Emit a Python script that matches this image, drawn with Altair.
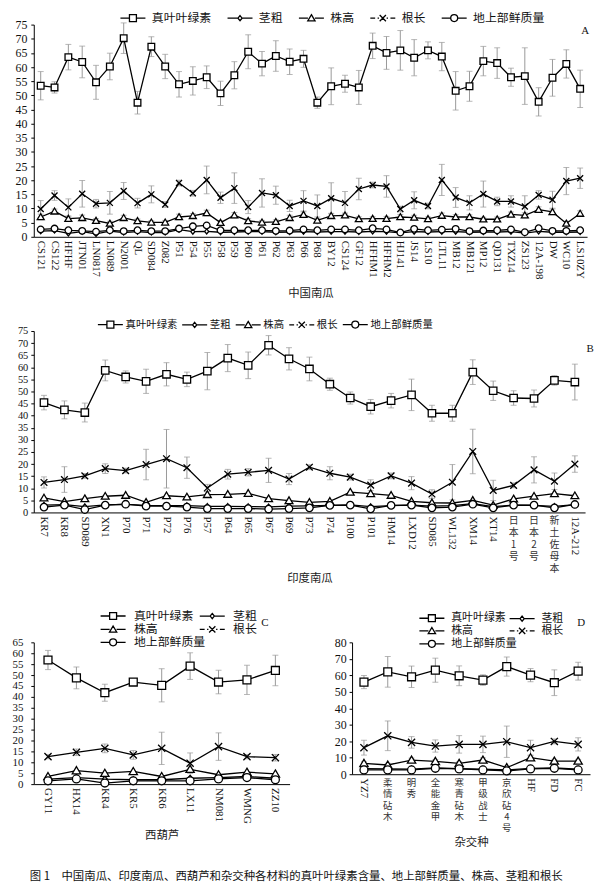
import altair as alt
import pandas as pd

SERIES = ["真叶叶绿素", "茎粗", "株高", "根长", "地上部鲜质量"]
LATIN = "Liberation Serif, Times New Roman, Noto Sans CJK SC"
CJK = "Noto Sans CJK SC"

# ---------------- Panel A: 中国南瓜 ----------------
A_CATS = ["CS121", "CS122", "HFHF", "JTN01", "LN0817", "LN089", "N2001", "QL", "SD084", "Z082",
          "P51", "P54", "P55", "P58", "P59", "P60", "P61", "P62", "P63", "P66", "P68", "BY12",
          "CS124", "GF12", "HFHM1", "HFHM2", "HJ141", "JS14", "LS10", "LTL11", "MB12", "MB121",
          "MP12", "QD131", "TXZ14", "ZS123", "12A-198", "DW", "WC10", "LS10ZY"]
A_CHL = [53.4, 52.8, 63.5, 61.8, 54.6, 60.2, 70.2, 47.4, 67.2, 60.2, 53.9, 55.1, 56.4, 50.7, 57.1,
         65.4, 61.2, 63.9, 61.9, 62.9, 47.4, 53.2, 54.1, 52.8, 67.5, 65.0, 65.9, 63.3, 65.9, 63.7,
         51.6, 53.2, 62.1, 61.4, 56.4, 56.8, 47.7, 56.2, 61.1, 52.3]
A_CHL_ERR = [5, 2, 4.5, 5.6, 6, 4.7, 5.4, 4, 3.5, 4.3, 4.5, 5, 4, 4.3, 4.8, 6, 4.3, 5.4, 4.5, 3,
             2, 6.5, 3, 6, 4.5, 5.8, 7, 6.4, 3, 5, 6.8, 5.3, 5.2, 5.4, 3.2, 10, 5, 6.5, 5, 6.6]
A_STEM = [2.0, 2.2, 1.2, 1.8, 1.0, 2.0, 1.5, 1.8, 1.5, 1.5, 2.5, 1.8, 1.9, 1.6, 1.7, 1.8, 1.8, 1.6,
          1.7, 1.8, 1.7, 1.8, 1.8, 1.7, 1.9, 1.8, 1.4, 1.8, 1.7, 1.8, 1.8, 1.6, 1.7, 1.7, 1.8, 1.3,
          1.9, 1.6, 1.6, 1.7]
A_HEIGHT = [7, 9, 6.4, 6.7, 5.7, 4.7, 6.7, 5.6, 5.1, 5.1, 7, 7.4, 8.4, 5, 7.6, 5.6, 5.1, 5.3, 6.7,
            7.8, 5.8, 7.4, 7.6, 6.3, 6.4, 6.4, 7, 6.8, 6.3, 7.5, 7, 7, 6.2, 6.2, 7.9, 7.6, 9.6, 8.8,
            4.7, 8.2]
A_HEIGHT_ERR = [1, 0.8, 0.8, 1, 0.7, 0.8, 0.9, 0.7, 0.6, 0.7, 1, 0.8, 1, 0.7, 1, 0.8, 0.7, 0.7, 0.9,
                1, 0.7, 0.9, 0.8, 0.8, 0.7, 0.8, 0.9, 0.8, 0.7, 0.9, 0.8, 0.8, 0.7, 0.8, 0.9, 0.9, 1,
                1, 0.8, 1]
A_ROOT = [9.8, 14.6, 10.4, 15.2, 11.7, 12.0, 16.2, 11.9, 15.0, 11.4, 19.0, 15.4, 20.1, 13.8, 17.2,
          10.5, 15.5, 14.7, 10.9, 12.7, 10.9, 13.6, 12.0, 16.9, 18.3, 17.8, 9.8, 12.9, 10.9, 20.1,
          13.9, 12.0, 15.1, 12.5, 12.5, 10.7, 14.8, 13.1, 19.7, 20.7]
A_ROOT_ERR = [3, 1.7, 3, 4.7, 1.5, 4, 3, 1.7, 3, 1, 1, 1, 4.9, 2, 5.4, 2.3, 5, 3.2, 2, 3.6, 3.9,
              5.5, 4, 3.8, 1, 3.8, 1, 3, 1, 5.5, 3.5, 2.5, 4.6, 1.5, 2, 3.8, 1.5, 3, 4.8, 3.6]
A_MASS = [2.6, 2.9, 2.3, 2.1, 1.8, 2.3, 2.0, 2.3, 2.0, 2.0, 2.9, 3.7, 4.0, 2.3, 2.3, 2.3, 2.3, 2.1,
          2.2, 2.6, 2.3, 2.6, 2.6, 2.3, 3.0, 2.6, 1.5, 2.8, 2.3, 2.5, 2.8, 2.0, 2.2, 2.3, 2.6, 1.6,
          3.0, 2.1, 2.1, 2.3]

# ---------------- Panel B: 印度南瓜 ----------------
B_CATS = ["KR7", "KR8", "SD089", "XN1", "P70", "P71", "P72", "P76", "P57", "P64", "P65", "P67",
          "P69", "P73", "P74", "P100", "P101", "HM14", "LXD12", "SD085", "WL132", "XM14", "XT14",
          "日本 1 号", "日本 2 号", "新土佐母本", "12A-212"]
B_CHL = [45.4, 42.4, 41.3, 58.7, 56.0, 54.2, 57.1, 55.0, 58.4, 63.8, 60.8, 69.1, 63.5, 59.3, 53.0,
         47.3, 43.7, 46.2, 48.6, 41.0, 41.0, 58.0, 50.3, 47.3, 47.1, 54.6, 53.9]
B_CHL_ERR = [3, 3.7, 3.9, 4.3, 2.5, 5, 4.8, 3, 7.7, 5.6, 5.5, 4, 4.6, 4.9, 2.5, 2.5, 3, 3, 6.5,
             3.3, 3.3, 5.1, 4, 3, 3.5, 2, 7.4]
B_STEM = [3.0, 3.2, 2.4, 3.1, 3.3, 2.9, 2.8, 2.8, 2.5, 2.5, 2.4, 2.3, 2.6, 2.7, 2.9, 3.1, 2.4, 2.8,
          3.0, 2.6, 2.8, 3.6, 2.4, 3.0, 2.9, 2.5, 3.2]
B_HEIGHT = [6, 4.5, 5.7, 6.7, 7.1, 4.2, 6.9, 6.4, 7.4, 7.5, 7.9, 5.7, 4.9, 4.2, 4.6, 8.4, 7.8, 7.1,
            4.6, 4.0, 3.9, 5.0, 3.0, 5.6, 6.7, 7.8, 6.9]
B_ROOT = [12.4, 13.6, 15.1, 18.1, 17.3, 19.8, 22.2, 18.5, 10.1, 15.8, 16.6, 17.4, 13.8, 18.7, 16.2,
          14.6, 11.3, 15.1, 12.1, 7.6, 12.5, 25.2, 9.1, 11.2, 17.6, 12.9, 20.0]
B_ROOT_ERR = [2.3, 5.3, 1, 2, 1, 6.3, 12.1, 4.4, 1.5, 2, 1.5, 5, 2.3, 1, 2.7, 1.2, 2.2, 1.2, 2.7,
              1.8, 7.3, 9.2, 4.2, 1, 5.4, 3.4, 3.4]
B_MASS = [2.2, 3.0, 1.2, 3.0, 3.4, 2.6, 2.6, 2.2, 1.6, 1.6, 1.6, 1.4, 1.6, 1.9, 2.9, 3.0, 1.5, 2.9,
          3.0, 1.9, 2.2, 3.4, 1.9, 3.0, 3.0, 1.9, 3.3]

# ---------------- Panel C: 西葫芦 ----------------
C_CATS = ["GY11", "HX14", "KR4", "KR5", "KR6", "LX11", "NM081", "WMNG", "ZZ10"]
C_CHL = [56.9, 48.7, 41.9, 46.8, 45.3, 54.1, 46.8, 47.8, 52.1]
C_CHL_ERR = [4.4, 5, 3.9, 1, 7.6, 6.1, 5.4, 6.7, 7]
C_STEM = [2.3, 3.0, 2.3, 2.0, 2.0, 2.7, 3.0, 3.5, 2.7]
C_HEIGHT = [3.5, 6.2, 5.0, 5.8, 3.5, 6.8, 4.3, 5.5, 4.7]
C_ROOT = [12.6, 14.6, 16.4, 13.4, 16.4, 9.6, 17.2, 12.6, 12.1]
C_ROOT_ERR = [1, 1.5, 2, 2, 7.4, 4.7, 6.3, 1, 1.5]
C_MASS = [1.5, 2.4, 0.5, 1.5, 1.5, 1.5, 2.4, 3.0, 2.0]

# ---------------- Panel D: 杂交种 ----------------
D_CATS = ["YZ7", "柔情砧木", "明秀", "全能金甲", "寒青砧木", "甲级战士", "京欣砧 4 号", "HF", "FD", "FC"]
D_CHL = [55.9, 62.1, 59.1, 63.1, 59.7, 57.1, 65.3, 60.1, 55.5, 62.5]
D_CHL_ERR = [4, 9.3, 6.5, 7.3, 6, 3.2, 5.8, 4, 7.8, 5.4]
D_STEM = [3.4, 3.2, 3.1, 3.8, 3.4, 3.0, 2.6, 3.5, 3.9, 3.0]
D_HEIGHT = [6.6, 5.6, 8.6, 7.8, 6.6, 8.6, 4.0, 10.0, 8.0, 8.0]
D_HEIGHT_ERR = [1, 1, 1.2, 1, 1, 1.3, 1, 1.2, 1, 1]
D_ROOT = [16.1, 23.3, 19.3, 17.1, 18.1, 18.1, 19.7, 16.1, 19.9, 18.1]
D_ROOT_ERR = [4.5, 9, 3.5, 3.7, 5.3, 5, 9.5, 4.5, 1.5, 4]
D_MASS = [2.6, 2.6, 2.6, 3.6, 3.2, 2.6, 2.0, 3.2, 3.6, 2.6]

CAPTION = "图 1　中国南瓜、印度南瓜、西葫芦和杂交种各材料的真叶叶绿素含量、地上部鲜质量、株高、茎粗和根长"

# marker shapes (plot) and legend symbols (line stub + marker)
SQ = "M-1,-1H1V1H-1Z"
DI = "M0,-0.75L0.6,0L0,0.75L-0.6,0Z"
TR = "M0,-1L1.05,0.8L-1.05,0.8Z"
XX = "M-0.9,-0.9L0.9,0.9M-0.9,0.9L0.9,-0.9"
CI = "M1,0A1,1 0 1,1 -1,0A1,1 0 1,1 1,0Z"
PT_SHAPES = [SQ, DI, TR, XX, CI]
LEG_SHAPES = ["M-3.6,0H-1M1,0H3.6" + SQ,
              "M-3.6,0H-0.6M0.6,0H3.6" + DI,
              "M-3.6,0H-1M1,0H3.6" + TR,
              "M-3.6,0H-2.2M-1.5,0H-1.1M1.1,0H1.5M2.2,0H3.6" + XX,
              "M-3.6,0H-1M1,0H3.6" + CI]


def has_cjk(s):
    return any("\u4e00" <= ch <= "\u9fff" for ch in s)


def panel(cats, vals, errs, ymax, ystep, w, h, yfs, ylp, leg, letter, lxy, xtitle, ttp, ms,
          lblfs, cjk_fs, cjk_lh, spacer=None):
    rows = []
    for s in SERIES:
        for i, c in enumerate(cats):
            v = vals[s][i]
            e = errs[s][i] if s in errs else 0
            rows.append({"cat": c, "series": s, "val": v, "lo": v - e, "hi": v + e,
                         "err": e, "idx": i})
    df = pd.DataFrame(rows)
    lab = pd.DataFrame({"cat": cats,
                        "txt": ["\n".join([ch for ch in c if ch != " "]) if has_cjk(c) else c for c in cats],
                        "cjk": [has_cjk(c) for c in cats]})

    xs = alt.X("cat:N", sort=cats, scale=alt.Scale(type="point", domain=cats, padding=0.5),
               axis=alt.Axis(labels=False, ticks=False, domainColor="black", title=xtitle,
                             titleFont=CJK, titleFontSize=11.5, titleFontWeight="normal",
                             titleColor="#222", titlePadding=ttp), title=xtitle)
    yax = alt.Axis(values=list(range(0, ymax + 1, ystep)), grid=False, domainColor="black",
                   tickColor="black", tickSize=3, labelFont=LATIN, labelFontSize=yfs,
                   labelColor="#111", labelPadding=ylp, labelOverlap=False, title=None)
    ysc = alt.Scale(domain=[0, ymax], nice=False, zero=True)
    y_val = alt.Y("val:Q", scale=ysc, axis=yax, title=None)

    base = alt.Chart(df)
    errd = base.transform_filter("datum.err > 0")
    err_rule = errd.mark_rule(color="#999", strokeWidth=1).encode(
        x=xs, y=alt.Y("lo:Q", scale=ysc, axis=yax, title=None), y2="hi:Q")
    err_top = errd.mark_tick(color="#999", thickness=1, size=6).encode(
        x=xs, y=alt.Y("hi:Q", scale=ysc, axis=yax, title=None))
    err_bot = errd.mark_tick(color="#999", thickness=1, size=6).encode(
        x=xs, y=alt.Y("lo:Q", scale=ysc, axis=yax, title=None))
    lines = base.mark_line(color="black", strokeWidth=1.3).encode(
        x=xs, y=y_val, detail="series:N", order="idx:Q")
    pts = base.mark_point(filled=True, fill="white", stroke="black", strokeWidth=1.3,
                          opacity=1, size=ms).encode(
        x=xs, y=y_val,
        shape=alt.Shape("series:N", scale=alt.Scale(domain=SERIES, range=PT_SHAPES), legend=None))
    leg_kwargs = dict(orient="none", legendX=leg["x"], legendY=leg["y"],
                      direction="horizontal", columns=leg["cols"], title=None,
                      labelFont=CJK, labelFontSize=leg["fs"], labelColor="#111",
                      symbolSize=49, symbolStrokeColor="black", symbolStrokeWidth=1.3,
                      symbolFillColor="white",
                      labelOffset=leg["lo"], columnPadding=leg["cp"],
                      rowPadding=leg["rp"], padding=0, gridAlign="each")
    legend_layer = base.transform_filter("datum.val < -9999").mark_point(
        filled=False, color="black", strokeWidth=1.3, opacity=1, size=49).encode(
        x=xs, y=y_val,
        shape=alt.Shape("series:N", scale=alt.Scale(domain=SERIES, range=LEG_SHAPES),
                        legend=alt.Legend(**leg_kwargs)))
    lab_latin = alt.Chart(lab).transform_filter("!datum.cjk").mark_text(
        angle=90, align="left", baseline="middle", font=LATIN, fontSize=lblfs, color="#111").encode(
        x=xs, y=alt.value(h + 4), text="txt:N")
    lab_cjk = alt.Chart(lab).transform_filter("datum.cjk").mark_text(
        angle=0, align="center", baseline="top", font=CJK, fontSize=cjk_fs, color="#333",
        lineBreak="\n", lineHeight=cjk_lh).encode(
        x=xs, y=alt.value(h + 4), text="txt:N")
    letter_t = alt.Chart(pd.DataFrame({"t": [letter]})).mark_text(
        font=LATIN, fontSize=11, align="center", baseline="top", color="#111").encode(
        text="t:N", x=alt.value(lxy[0]), y=alt.value(lxy[1]))
    layers = [err_rule, err_top, err_bot, lines, pts, legend_layer, lab_latin, lab_cjk, letter_t]
    if spacer is not None:
        layers.append(alt.Chart(pd.DataFrame({"t": ["|"]})).mark_text(
            opacity=0, fontSize=8, baseline="top").encode(
            text="t:N", x=alt.value(0), y=alt.value(spacer)))
    return alt.layer(*layers).resolve_scale(shape="independent").properties(width=w, height=h)


A = panel(A_CATS, {"真叶叶绿素": A_CHL, "茎粗": A_STEM, "株高": A_HEIGHT, "根长": A_ROOT,
                   "地上部鲜质量": A_MASS},
          {"真叶叶绿素": A_CHL_ERR, "株高": A_HEIGHT_ERR, "根长": A_ROOT_ERR},
          75, 5, 558, 214, 12, 4,
          {"x": 94, "y": -13, "cols": 5, "fs": 12, "lo": 13, "cp": 12, "rp": 2},
          "A", (556, 0), "中国南瓜", 51, 45, 11, 10.5, 11.2)
B = panel(B_CATS, {"真叶叶绿素": B_CHL, "茎粗": B_STEM, "株高": B_HEIGHT, "根长": B_ROOT,
                   "地上部鲜质量": B_MASS},
          {"真叶叶绿素": B_CHL_ERR, "根长": B_ROOT_ERR},
          75, 5, 556, 183, 10.5, 3,
          {"x": 72, "y": -12, "cols": 5, "fs": 10.5, "lo": 10, "cp": 2, "rp": 2},
          "B", (561, 12), "印度南瓜", 61, 56, 11, 10, 12)
C = panel(C_CATS, {"真叶叶绿素": C_CHL, "茎粗": C_STEM, "株高": C_HEIGHT, "根长": C_ROOT,
                   "地上部鲜质量": C_MASS},
          {"真叶叶绿素": C_CHL_ERR, "根长": C_ROOT_ERR},
          65, 5, 258, 143, 11, 8,
          {"x": 74, "y": -33, "cols": 2, "fs": 12, "lo": 15, "cp": -21, "rp": 0},
          "C", (233, -25), "西葫芦", 46, 64, 11, 10.5, 12, spacer=-44)
D = panel(D_CATS, {"真叶叶绿素": D_CHL, "茎粗": D_STEM, "株高": D_HEIGHT, "根长": D_ROOT,
                   "地上部鲜质量": D_MASS},
          {"真叶叶绿素": D_CHL_ERR, "株高": D_HEIGHT_ERR, "根长": D_ROOT_ERR},
          80, 10, 240, 133, 12, 3,
          {"x": 75, "y": -30, "cols": 2, "fs": 11, "lo": 14, "cp": -42, "rp": 0},
          "D", (231, -25), "杂交种", 63, 64, 11, 9.5, 11.4, spacer=-44)

top_part = alt.vconcat(A, B, spacing=20)
chart = alt.vconcat(top_part, alt.hconcat(C, D, spacing=45), spacing=14).properties(
    padding={"left": 4, "top": 0, "right": 0, "bottom": 0},
    title=alt.TitleParams(text=CAPTION, orient="bottom", anchor="start", font=CJK, fontSize=11.5,
                          fontWeight="normal", color="#111", offset=23, dx=18),
).configure_view(stroke=None)

chart.save("out.html", embed_options={"renderer": "svg", "actions": False})
